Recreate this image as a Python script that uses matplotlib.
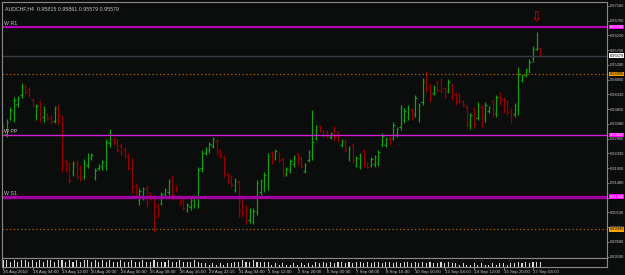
import numpy as np
import matplotlib
matplotlib.use('Agg')
import matplotlib.pyplot as plt
import matplotlib.transforms as mtransforms

# AUDCHF H4 bars (open, high, low, close)
opens = [0.9338, 0.9306, 0.9357, 0.9376, 0.9402, 0.9431, 0.9460, 0.9450, 0.9418, 0.9364,
         0.9409, 0.9360, 0.9370, 0.9360, 0.9347, 0.9396, 0.9360, 0.9219, 0.9206, 0.9183,
         0.9212, 0.9196, 0.9170, 0.9206, 0.9228, 0.9167, 0.9196, 0.9199, 0.9206, 0.9277,
         0.9289, 0.9283, 0.9267, 0.9254, 0.9235, 0.9215, 0.9138, 0.9093, 0.9103, 0.9132,
         0.9116, 0.9103, 0.9077, 0.9083, 0.9109, 0.9119, 0.9164, 0.9138, 0.9106, 0.9093,
         0.9061, 0.9070, 0.9077, 0.9077, 0.9196, 0.9244, 0.9254, 0.9267, 0.9283, 0.9254,
         0.9231, 0.9177, 0.9170, 0.9125, 0.9151, 0.9093, 0.9070, 0.9029, 0.9022, 0.9054,
         0.9119, 0.9132, 0.9141, 0.9244, 0.9228, 0.9244, 0.9225, 0.9177, 0.9190, 0.9209,
         0.9241, 0.9228, 0.9186, 0.9222, 0.9238, 0.9293, 0.9331, 0.9315, 0.9315, 0.9296,
         0.9325, 0.9309, 0.9270, 0.9283, 0.9228, 0.9270, 0.9206, 0.9203, 0.9251, 0.9212,
         0.9206, 0.9209, 0.9212, 0.9270, 0.9270, 0.9293, 0.9293, 0.9302, 0.9328, 0.9351,
         0.9360, 0.9383, 0.9370, 0.9354, 0.9409, 0.9499, 0.9463, 0.9438, 0.9473, 0.9479,
         0.9454, 0.9444, 0.9463, 0.9434, 0.9431, 0.9412, 0.9393, 0.9335, 0.9386, 0.9357,
         0.9393, 0.9357, 0.9380, 0.9412, 0.9373, 0.9438, 0.9418, 0.9409, 0.9383, 0.9370,
         0.9383, 0.9479, 0.9496, 0.9512, 0.9550, 0.9579, 0.95815]
highs = [0.9341, 0.9354, 0.9393, 0.9425, 0.9428, 0.9470, 0.9467, 0.9457, 0.9421, 0.9402,
         0.9415, 0.9396, 0.9373, 0.9367, 0.9396, 0.9399, 0.9367, 0.9222, 0.9215, 0.9219,
         0.9222, 0.9206, 0.9225, 0.9244, 0.9244, 0.9196, 0.9209, 0.9222, 0.9289, 0.9322,
         0.9293, 0.9289, 0.9277, 0.9264, 0.9244, 0.9228, 0.9148, 0.9132, 0.9135, 0.9141,
         0.9119, 0.9109, 0.9083, 0.9119, 0.9132, 0.9161, 0.9174, 0.9141, 0.9109, 0.9099,
         0.9083, 0.9099, 0.9109, 0.9199, 0.9254, 0.9264, 0.9280, 0.9296, 0.9289, 0.9257,
         0.9238, 0.9180, 0.9174, 0.9164, 0.9157, 0.9099, 0.9077, 0.9067, 0.9067, 0.9157,
         0.9161, 0.9183, 0.9244, 0.9251, 0.9257, 0.9248, 0.9231, 0.9199, 0.9225, 0.9238,
         0.9244, 0.9235, 0.9212, 0.9254, 0.9383, 0.9335, 0.9335, 0.9318, 0.9318, 0.9312,
         0.9331, 0.9315, 0.9289, 0.9289, 0.9267, 0.9277, 0.9235, 0.9244, 0.9257, 0.9215,
         0.9231, 0.9238, 0.9254, 0.9309, 0.9296, 0.9296, 0.9344, 0.9328, 0.9399, 0.9389,
         0.9399, 0.9389, 0.9431, 0.9405, 0.9486, 0.9508, 0.9470, 0.9463, 0.9479, 0.9486,
         0.9457, 0.9483, 0.9470, 0.9441, 0.9438, 0.9415, 0.9399, 0.9373, 0.9393, 0.9409,
         0.9399, 0.9409, 0.9396, 0.9418, 0.9431, 0.9441, 0.9425, 0.9415, 0.9389, 0.9405,
         0.9521, 0.9499, 0.9518, 0.9547, 0.9589, 0.9634, 0.95861]
lows = [0.9312, 0.9296, 0.9351, 0.9344, 0.9393, 0.9421, 0.9434, 0.9425, 0.9393, 0.9351,
        0.9344, 0.9344, 0.9351, 0.9338, 0.9341, 0.9335, 0.9183, 0.9183, 0.9148, 0.9170,
        0.9161, 0.9154, 0.9161, 0.9196, 0.9222, 0.9157, 0.9190, 0.9190, 0.9190, 0.9264,
        0.9270, 0.9248, 0.9238, 0.9228, 0.9190, 0.9116, 0.9103, 0.9077, 0.9093, 0.9070,
        0.9093, 0.8990, 0.9035, 0.9077, 0.9103, 0.9109, 0.9093, 0.9119, 0.9077, 0.9061,
        0.9054, 0.9061, 0.9067, 0.9067, 0.9183, 0.9238, 0.9244, 0.9260, 0.9238, 0.9228,
        0.9167, 0.9148, 0.9135, 0.9119, 0.9038, 0.9038, 0.9016, 0.9019, 0.9016, 0.9045,
        0.9109, 0.9119, 0.9125, 0.9209, 0.9222, 0.9215, 0.9167, 0.9170, 0.9180, 0.9199,
        0.9206, 0.9196, 0.9180, 0.9215, 0.9222, 0.9286, 0.9312, 0.9296, 0.9293, 0.9289,
        0.9286, 0.9280, 0.9264, 0.9248, 0.9219, 0.9212, 0.9199, 0.9193, 0.9199, 0.9196,
        0.9199, 0.9199, 0.9203, 0.9264, 0.9264, 0.9270, 0.9286, 0.9296, 0.9318, 0.9341,
        0.9351, 0.9351, 0.9360, 0.9344, 0.9399, 0.9441, 0.9409, 0.9431, 0.9441, 0.9438,
        0.9421, 0.9438, 0.9415, 0.9399, 0.9405, 0.9393, 0.9328, 0.9322, 0.9325, 0.9351,
        0.9328, 0.9344, 0.9373, 0.9360, 0.9360, 0.9399, 0.9373, 0.9367, 0.9341, 0.9360,
        0.9367, 0.9473, 0.9489, 0.9502, 0.9537, 0.9576, 0.95579]
closes = [0.9318, 0.9344, 0.9383, 0.9415, 0.9421, 0.9460, 0.9441, 0.9431, 0.9399, 0.9396,
          0.9357, 0.9383, 0.9357, 0.9344, 0.9389, 0.9367, 0.9215, 0.9190, 0.9157, 0.9209,
          0.9170, 0.9164, 0.9212, 0.9235, 0.9238, 0.9190, 0.9203, 0.9215, 0.9280, 0.9312,
          0.9277, 0.9254, 0.9248, 0.9235, 0.9196, 0.9132, 0.9112, 0.9122, 0.9128, 0.9083,
          0.9099, 0.9045, 0.9045, 0.9112, 0.9125, 0.9151, 0.9109, 0.9125, 0.9083, 0.9067,
          0.9077, 0.9093, 0.9103, 0.9190, 0.9244, 0.9257, 0.9273, 0.9289, 0.9248, 0.9235,
          0.9183, 0.9157, 0.9141, 0.9154, 0.9061, 0.9051, 0.9029, 0.9061, 0.9058, 0.9148,
          0.9154, 0.9174, 0.9235, 0.9219, 0.9251, 0.9222, 0.9180, 0.9193, 0.9219, 0.9231,
          0.9215, 0.9203, 0.9206, 0.9248, 0.9280, 0.9328, 0.9318, 0.9302, 0.9299, 0.9309,
          0.9296, 0.9286, 0.9283, 0.9254, 0.9257, 0.9222, 0.9228, 0.9235, 0.9206, 0.9199,
          0.9225, 0.9231, 0.9248, 0.9299, 0.9289, 0.9277, 0.9335, 0.9322, 0.9389, 0.9380,
          0.9389, 0.9360, 0.9421, 0.9399, 0.9473, 0.9454, 0.9421, 0.9457, 0.9447, 0.9447,
          0.9428, 0.9473, 0.9425, 0.9409, 0.9412, 0.9399, 0.9344, 0.9367, 0.9338, 0.9399,
          0.9344, 0.9399, 0.9393, 0.9370, 0.9425, 0.9412, 0.9383, 0.9376, 0.9357, 0.9396,
          0.9499, 0.9492, 0.9512, 0.9537, 0.9579, 0.95815, 0.95579]

# small indicator strip under the price window
volumes = [4, 4, 3, 4, 3, 4, 4, 3, 4, 3, 4, 3, 4, 4, 3, 4, 4, 3, 4, 3,
           4, 3, 4, 4, 3, 4, 3, 4, 3, 4, 3, 3, 4, 3, 3, 4, 3, 3, 4, 3,
           3, 4, 3, 3, 3, 4, 3, 3, 4, 3, 3, 3, 4, 3, 2, 2, 1, 2, 1, 2,
           1, 2, 2, 3, 3, 4, 3, 3, 4, 3, 3, 3, 3, 1, 2, 1, 2, 1, 1, 2,
           1, 2, 1, 2, 1, 3, 2, 3, 2, 3, 2, 3, 3, 2, 3, 2, 3, 3, 2, 3,
           2, 3, 3, 2, 3, 3, 2, 3, 2, 3, 3, 2, 3, 2, 3, 2, 3, 2, 2, 3,
           2, 3, 2, 2, 1, 2, 1, 1, 2, 1, 2, 1, 1, 2, 1, 2, 2, 1, 2, 2,
           3, 2, 3, 2, 3, 3, 3]

date_pos = [0, 8, 16, 24, 32, 40, 48, 56, 64, 72, 80, 88, 96, 104, 112, 120, 128, 136, 144]
date_labels = ['16 Aug 2010', '18 Aug 04:00', '19 Aug 12:00', '20 Aug 20:00', '24 Aug 00:00',
               '25 Aug 08:00', '26 Aug 16:00', '29 Aug 22:15', '31 Aug 04:00', '1 Sep 12:00',
               '2 Sep 20:00', '6 Sep 00:00', '7 Sep 08:00', '8 Sep 16:00', '10 Sep 00:00',
               '13 Sep 04:00', '14 Sep 12:00', '15 Sep 20:00', '17 Sep 04:00']

price_ticks = [0.97180, 0.96700, 0.96230, 0.95750, 0.95280, 0.94800, 0.94330, 0.93850,
               0.93380, 0.92900, 0.92430, 0.91950, 0.91480, 0.91000, 0.90530, 0.90050,
               0.89580, 0.89100]

# weekly pivot levels and other horizontal lines
pivot_names = ['W R1', 'W PP', 'W S1']
pivot_levels = [0.96500, 0.93020, 0.91030]
orange_levels = [0.94990, 0.89990]
bid = 0.95579

bg = '#0b0c0c'
fg = '#8a8a8a'
green = '#10a010'
red = '#960000'
txt = '#c4c4c4'
font = 'Liberation Sans'

W, H = 625, 275
fig = plt.figure(figsize=(6.25, 2.75), dpi=100, facecolor=bg)
ax = fig.add_axes([2 / W, 17 / H, 605 / W, 256 / H], facecolor=bg)
ax2 = fig.add_axes([2 / W, 8 / H, 605 / W, 9 / H], facecolor=bg, sharex=ax)

o = np.array(opens); h = np.array(highs); l = np.array(lows); c = np.array(closes)
x = np.arange(len(o))
up = c >= o
for m, col in ((up, green), (~up, red)):
    ax.vlines(x[m], l[m], h[m], color=col, lw=0.9)
    ax.hlines(o[m], x[m] - 0.38, x[m], color=col, lw=0.9)
    ax.hlines(c[m], x[m], x[m] + 0.38, color=col, lw=0.9)

ax.set_xlim(-0.3, -0.3 + 605 / 3.68)
ax.set_ylim(0.89062, 0.97306)

# horizontal levels
ax.axhline(pivot_levels[0], color='#b000b0', lw=1.6)
ax.axhline(pivot_levels[1], color='#d020d0', lw=1.0)
ax.axhline(pivot_levels[2], color='#a000a0', lw=2.4)
ax.axhline(bid, color='#3a3a46', lw=1.0)
for lv in orange_levels:
    ax.axhline(lv, color='#b46400', lw=0.9, ls=(0, (1, 2)))

tr = mtransforms.blended_transform_factory(ax.transAxes, ax.transData)
for name, lv in zip(pivot_names, pivot_levels):
    ax.text(2.5 / 605, lv + 0.0004, name, transform=tr, family=font,
            color=txt, fontsize=3.8, va='bottom', ha='left')

# right price scale
ax.yaxis.tick_right()
ax.set_yticks(price_ticks)
ax.set_yticklabels(['%.5f' % t for t in price_ticks], family=font)
ax.tick_params(axis='y', colors=fg, labelcolor=txt, labelsize=2.9, length=1.5, width=0.6, pad=0.6)
ax.tick_params(axis='x', bottom=False, labelbottom=False)

boxes = [(pivot_levels[0], '#ff00ff', 'white'), (pivot_levels[1], '#ff00ff', 'white'),
         (pivot_levels[2], '#ff00ff', 'white'), (bid, 'white', 'black'),
         (orange_levels[0], '#ffa500', 'black'), (orange_levels[1], '#ffa500', 'black')]
for lv, fc, tc in boxes:
    ax.text(1.0 + 2.5 / 605, lv, '%.5f' % lv, transform=tr, fontsize=2.9, color=tc, va='center',
            ha='left', family=font, clip_on=False,
            bbox=dict(boxstyle='square,pad=0.1', fc=fc, ec='none'))

for sp in ax.spines.values():
    sp.set_color(fg)
    sp.set_linewidth(0.8)

ax.text(3 / 605, 0.985, 'AUDCHF,H4  0.95815 0.95861 0.95579 0.95579', transform=ax.transAxes,
        color=txt, fontsize=3.8, va='top', ha='left', family=font)

# red arrow above the spike
top = int(np.argmax(h))
ax.text(x[top], h[top] + 0.0028, '\u21e9', color='#e00000', fontsize=10, ha='center',
        va='bottom', family='DejaVu Sans')

# indicator strip and date axis
ax2.bar(x, volumes, width=0.3, color='#d8d8d8')
ax2.set_ylim(0, 5)
ax2.set_yticks([])
for sp in ax2.spines.values():
    sp.set_color(fg)
    sp.set_linewidth(0.8)
ax2.set_xticks(date_pos)
ax2.set_xticklabels(date_labels, ha='left', family=font)
ax2.tick_params(axis='x', colors=fg, labelcolor=txt, labelsize=3.2, length=2, width=0.6, pad=0.5)

fig.savefig('out.png', dpi=100, facecolor=bg)
